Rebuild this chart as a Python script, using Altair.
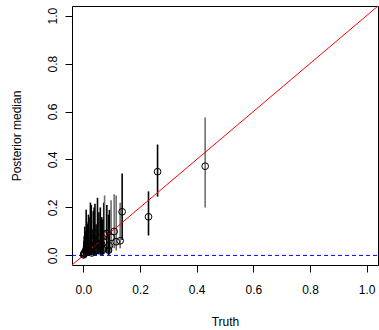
import altair as alt
import pandas as pd

truth = [0.43, 0.262, 0.23, 0.137, 0.13, 0.116, 0.109, 0.083, 0.041, 0.072,
         0.089, 0.06, 0.098, 0.05, 0.035, 0.025, 0.02, 0.015, 0.01, 0.008,
         0.005, 0.003, 0.002, 0.012, 0.03, 0.045, 0.055, 0.065, 0.075, 0.018,
         0.038, 0.001, 0.068, 0.028, 0.092]
median = [0.372, 0.349, 0.161, 0.182, 0.061, 0.057, 0.10, 0.092, 0.092, 0.055,
          0.022, 0.032, 0.075, 0.05, 0.04, 0.03, 0.02, 0.015, 0.012, 0.02,
          0.008, 0.01, 0.005, 0.03, 0.01, 0.02, 0.07, 0.045, 0.085, 0.045,
          0.065, 0.002, 0.025, 0.06, 0.04]
lower = [0.20, 0.245, 0.083, 0.064, 0.03, 0.02, 0.03, 0.01, 0.005, 0.005,
         0.0, 0.002, 0.01, 0.005, 0.002, 0.001, 0.001, 0.0, 0.0, 0.0,
         0.0, 0.0, 0.0, 0.0, 0.0, 0.0, 0.005, 0.003, 0.01, 0.0,
         0.003, 0.0, 0.0, 0.002, 0.004]
upper = [0.575, 0.4625, 0.267, 0.342, 0.22, 0.25, 0.255, 0.21, 0.215, 0.22,
         0.17, 0.20, 0.23, 0.24, 0.185, 0.22, 0.16, 0.13, 0.19, 0.10,
         0.12, 0.08, 0.06, 0.14, 0.11, 0.13, 0.18, 0.16, 0.25, 0.17,
         0.20, 0.04, 0.15, 0.21, 0.19]
group = ["g", "b", "b", "b", "g", "g", "g", "b", "b", "b",
         "b", "b", "g", "b", "b", "b", "b", "b", "b", "b",
         "b", "b", "b", "b", "b", "b", "b", "b", "g", "b",
         "b", "b", "b", "b", "b"]

domain = [-0.04, 1.04]
ticks = [0.0, 0.2, 0.4, 0.6, 0.8, 1.0]

df = pd.DataFrame({"truth": truth, "median": median, "lower": lower,
                   "upper": upper, "group": group})
diag = pd.DataFrame({"a": domain, "b": domain})
zero = pd.DataFrame({"a": domain, "b": [0.0, 0.0]})

FONT = "Liberation Sans"
xs = alt.Scale(domain=domain, nice=False, zero=False)
ys = alt.Scale(domain=domain, nice=False, zero=False)

xaxis = alt.Axis(values=ticks, format=".1f", domain=False, grid=False,
                 tickSize=7, tickColor="black", labelColor="black",
                 labelFont=FONT, labelFontSize=12, labelPadding=12,
                 title="Truth", titleFont=FONT, titleFontSize=12,
                 titleFontWeight="normal", titleColor="black", titlePadding=21)
yaxis = alt.Axis(values=ticks, format=".1f", domain=False, grid=False,
                 tickSize=7, tickColor="black", labelColor="black",
                 labelFont=FONT, labelFontSize=12, labelAngle=270,
                 labelAlign="center", labelBaseline="bottom", labelPadding=6,
                 title="Posterior median", titleFont=FONT, titleFontSize=12,
                 titleFontWeight="normal", titleColor="black", titlePadding=23)

bars = alt.Chart(df).mark_rule(strokeWidth=1.6).encode(
    x=alt.X("truth:Q", scale=xs, axis=xaxis),
    y=alt.Y("lower:Q", scale=ys, axis=yaxis),
    y2="upper:Q",
    color=alt.Color("group:N", scale=alt.Scale(domain=["b", "g"],
                    range=["#000000", "#707070"]), legend=None),
)

pts = alt.Chart(df).mark_point(shape="circle", filled=False, size=45,
                               color="black", strokeWidth=1, opacity=1).encode(
    x=alt.X("truth:Q", scale=xs),
    y=alt.Y("median:Q", scale=ys),
)

line = alt.Chart(diag).mark_line(color="red", strokeWidth=1, clip=True).encode(
    x=alt.X("a:Q", scale=xs), y=alt.Y("b:Q", scale=ys))

dash = alt.Chart(zero).mark_line(color="blue", strokeWidth=1,
                                 strokeDash=[4, 3], clip=True).encode(
    x=alt.X("a:Q", scale=xs), y=alt.Y("b:Q", scale=ys))

chart = alt.layer(bars, dash, line, pts).properties(
    width=306, height=259,
    autosize=alt.AutoSizeParams(type="none"),
    padding={"left": 72, "top": 6, "right": 1, "bottom": 65},
    background="white",
).configure_view(stroke="black", strokeWidth=1)

chart.save("out.html", embed_options={"renderer": "svg", "actions": False})
